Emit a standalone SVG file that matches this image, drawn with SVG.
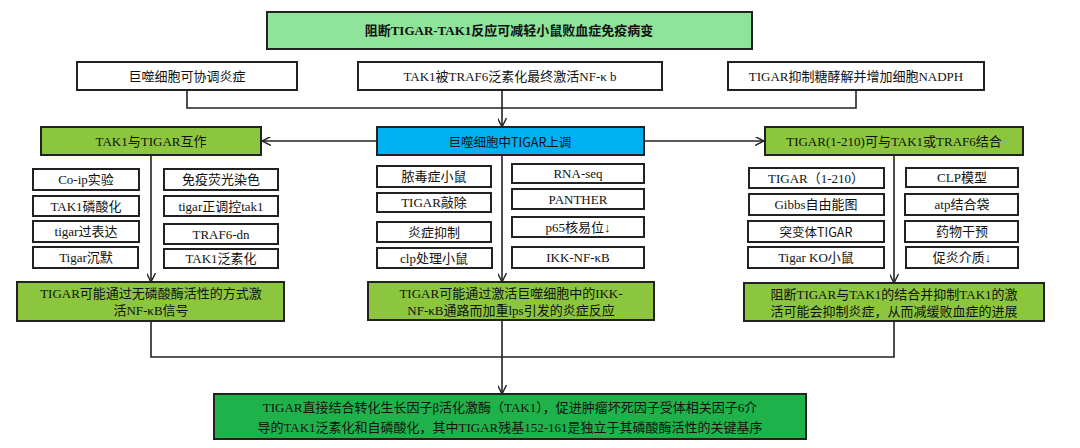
<svg xmlns="http://www.w3.org/2000/svg" width="1080" height="448" viewBox="0 0 1080 448">
<style>
rect{stroke:#222;stroke-width:2}
.w{fill:#fff}.g{fill:#8cc63f}.t{fill:#8ee59a}.b{fill:#00b0f0}.d{fill:#20b24a}
text{font-family:"Liberation Serif","Noto Sans CJK SC",serif;font-size:13px;fill:#111;text-anchor:middle;dominant-baseline:central}
.s{font-size:12.5px}
.bd{font-weight:bold}
.c line,.c polyline{stroke:#222;stroke-width:1.6;fill:none}
</style>
<defs><marker id="a" viewBox="0 0 10 10" refX="10" refY="5" markerWidth="9" markerHeight="9" markerUnits="userSpaceOnUse" orient="auto"><path d="M0,0L10,5L0,10" fill="none" stroke="#222" stroke-width="1.6"/></marker></defs>
<g class="c">
<polyline points="187,90 187,108 856,108 856,90"/>
<line x1="502" y1="90" x2="502" y2="127" marker-end="url(#a)"/>
<line x1="377" y1="141" x2="262" y2="141" marker-end="url(#a)"/>
<line x1="644" y1="141" x2="764" y2="141" marker-end="url(#a)"/>
<line x1="151" y1="155" x2="151" y2="282" marker-end="url(#a)"/>
<line x1="502" y1="155" x2="502" y2="282" marker-end="url(#a)"/>
<line x1="894" y1="155" x2="894" y2="283" marker-end="url(#a)"/>
<polyline points="151,321 151,357 894,357 894,321"/>
<line x1="502" y1="320" x2="502" y2="394" marker-end="url(#a)"/>
</g>
<g id="title"><rect class="t" x="267" y="12" width="485" height="37"/><text x="509" y="30" class="bd">阻断TIGAR-TAK1反应可减轻小鼠败血症免疫病变</text></g>
<g id="r1"><rect class="w" x="77" y="62" width="220" height="28"/><text x="187" y="76">巨噬细胞可协调炎症</text></g>
<g id="r2"><rect class="w" x="358" y="62" width="304" height="28"/><text x="510" y="76">TAK1被TRAF6泛素化最终激活NF-κ b</text></g>
<g id="r3"><rect class="w" x="728" y="62" width="256" height="28"/><text x="856" y="76">TIGAR抑制糖酵解并增加细胞NADPH</text></g>
<g id="L"><rect class="g" x="41" y="127" width="220" height="28"/><text x="151" y="141">TAK1与TIGAR互作</text></g>
<g id="M"><rect class="b" x="377" y="127" width="267" height="28"/><text x="510" y="141" style="font-family:'Noto Sans CJK SC','Liberation Sans',sans-serif;font-size:12.5px">巨噬细胞中TIGAR上调</text></g>
<g id="R"><rect class="g" x="765" y="127" width="258" height="28"/><text x="894" y="141">TIGAR(1-210)可与TAK1或TRAF6结合</text></g>
<g id="l1"><rect class="w" x="33" y="169" width="106" height="21"/><text x="86" y="179.5">Co-ip实验</text></g>
<g id="l2"><rect class="w" x="33" y="196" width="106" height="20"/><text x="86" y="206">TAK1磷酸化</text></g>
<g id="l3"><rect class="w" x="33" y="221" width="106" height="21"/><text x="86" y="231.5">tigar过表达</text></g>
<g id="l4"><rect class="w" x="33" y="247" width="105" height="21"/><text x="86" y="257.5">Tigar沉默</text></g>
<g id="l5"><rect class="w" x="164" y="169" width="114" height="21"/><text x="221" y="179.5">免疫荧光染色</text></g>
<g id="l6"><rect class="w" x="164" y="196" width="114" height="20"/><text x="221" y="206">tigar正调控tak1</text></g>
<g id="l7"><rect class="w" x="164" y="224" width="114" height="20"/><text x="221" y="234">TRAF6-dn</text></g>
<g id="l8"><rect class="w" x="164" y="249" width="114" height="19"/><text x="221" y="258.5">TAK1泛素化</text></g>
<g id="m1"><rect class="w" x="377" y="166" width="114" height="21"/><text x="434" y="176.5">脓毒症小鼠</text></g>
<g id="m2"><rect class="w" x="377" y="193" width="114" height="19"/><text x="434" y="202.5">TIGAR敲除</text></g>
<g id="m3"><rect class="w" x="377" y="222" width="114" height="20"/><text x="434" y="232">炎症抑制</text></g>
<g id="m4"><rect class="w" x="377" y="248" width="115" height="20"/><text x="434" y="258">clp处理小鼠</text></g>
<g id="m5"><rect class="w" x="512" y="164" width="132" height="19"/><text x="578" y="173.5">RNA-seq</text></g>
<g id="m6"><rect class="w" x="512" y="189" width="132" height="20"/><text x="578" y="199">PANTHER</text></g>
<g id="m7"><rect class="w" x="512" y="217" width="132" height="20"/><text x="578" y="227">p65核易位↓</text></g>
<g id="m8"><rect class="w" x="512" y="247" width="132" height="21"/><text x="578" y="257.5">IKK-NF-κB</text></g>
<g id="q1"><rect class="w" x="749" y="168" width="135" height="20"/><text x="816" y="178">TIGAR（1-210）</text></g>
<g id="q2"><rect class="w" x="749" y="194" width="135" height="21"/><text x="816" y="204.5">Gibbs自由能图</text></g>
<g id="q3"><rect class="w" x="748" y="221" width="136" height="21"/><text x="816" y="231.5" style="font-family:'Noto Sans CJK SC','Liberation Sans',sans-serif;font-size:12.5px">突变体TIGAR</text></g>
<g id="q4"><rect class="w" x="748" y="247" width="136" height="21"/><text x="816" y="257.5">Tigar KO小鼠</text></g>
<g id="q5"><rect class="w" x="906" y="168" width="112" height="19"/><text x="962" y="177.5">CLP模型</text></g>
<g id="q6"><rect class="w" x="905" y="194" width="113" height="21"/><text x="962" y="204.5">atp结合袋</text></g>
<g id="q7"><rect class="w" x="905" y="221" width="113" height="21"/><text x="962" y="231.5">药物干预</text></g>
<g id="q8"><rect class="w" x="906" y="247" width="112" height="21"/><text x="962" y="257.5">促炎介质↓</text></g>
<g id="LB"><rect class="g" x="17" y="282" width="267" height="39"/><text x="151" y="293">TIGAR可能通过无磷酸酶活性的方式激</text><text x="151" y="310">活NF-κB信号</text></g>
<g id="MB"><rect class="g" x="368" y="282" width="286" height="38"/><text x="511" y="293">TIGAR可能通过激活巨噬细胞中的IKK-</text><text x="511" y="310">NF-κB通路而加重lps引发的炎症反应</text></g>
<g id="RB"><rect class="g" x="744" y="283" width="300" height="38"/><text x="894" y="294">阻断TIGAR与TAK1的结合并抑制TAK1的激</text><text x="894" y="311">活可能会抑制炎症，从而减缓败血症的进展</text></g>
<g id="F"><rect class="d" x="214" y="394" width="592" height="45"/><text x="510" y="407">TIGAR直接结合转化生长因子β活化激酶（TAK1），促进肿瘤坏死因子受体相关因子6介</text><text x="510" y="427">导的TAK1泛素化和自磷酸化，其中TIGAR残基152-161是独立于其磷酸酶活性的关键基序</text></g>
</svg>
